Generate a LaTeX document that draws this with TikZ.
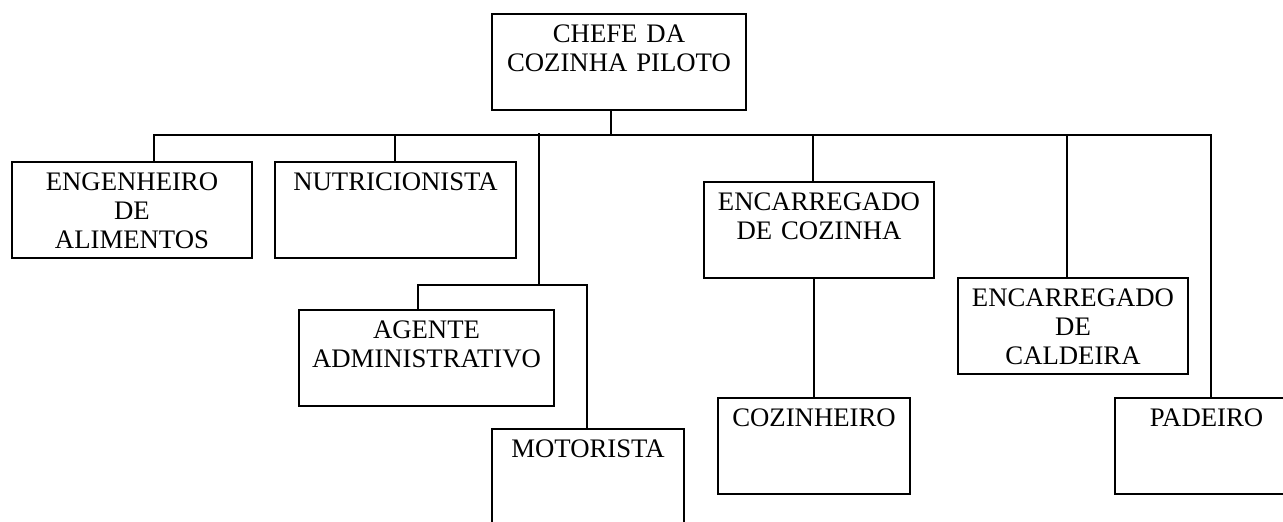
\documentclass[tikz,border=0pt]{standalone}
\usepackage{fontspec}
\setmainfont{Liberation Serif}
\usetikzlibrary{calc}

\begin{document}
\begin{tikzpicture}[x=.5pt, y=-.5pt,
  cargo/.style={draw, line width=1pt, anchor=north west, inner sep=0pt,
    text width=#1, align=center, text height=14.25pt, text depth=33.75pt,
    font=\fontsize{13.37pt}{14.5pt}\selectfont},
  liga/.style={line width=.85pt}]
\useasboundingbox (0,0) rectangle (1283,521);

% cargos
\node[cargo=127pt]   (chefe)      at (491,13)   {CHEFE DA\\COZINHA PILOTO};
\node[cargo=120pt]   (eng)        at (11,161)   {ENGENHEIRO\\DE\\ALIMENTOS};
\node[cargo=120.5pt] (nutri)      at (274,161)  {NUTRICIONISTA};
\node[cargo=127.5pt] (agente)     at (298,309)  {AGENTE\\ADMINISTRATIVO};
\node[cargo=96pt]    (motorista)  at (491,428)  {MOTORISTA};
\node[cargo=115pt]   (enccoz)     at (703,181)  {ENCARREGADO\\DE COZINHA};
\node[cargo=96pt]    (cozinheiro) at (717,397)  {COZINHEIRO};
\node[cargo=115pt]   (caldeira)   at (957,277)  {ENCARREGADO\\DE\\CALDEIRA};
\node[cargo=91.5pt]  (padeiro)    at (1114,397) {PADEIRO};

% barramento
\coordinate (b-eng)   at (154,135);
\coordinate (b-nut)   at (395,135);
\coordinate (b-adm)   at (539,133);
\coordinate (b-chefe) at (611,135);
\coordinate (b-coz)   at (813,135);
\coordinate (b-cal)   at (1067,135);
\coordinate (b-pad)   at (1211,135);
\coordinate (f-ag)    at (418,285);
\coordinate (f-adm)   at (539,285);
\coordinate (f-mot)   at (587,285);

\draw[liga] (eng.north -| b-eng) -- (b-eng) -- (b-pad) -- (padeiro.north -| b-pad);
\draw[liga] (chefe.south -| b-chefe) -- (b-chefe);
\draw[liga] (b-nut) -- (nutri.north -| b-nut);
\draw[liga] (b-coz) -- (enccoz.north -| b-coz);
\draw[liga] (enccoz.south -| cozinheiro.north) -- (cozinheiro.north);
\draw[liga] (b-cal) -- (caldeira.north -| b-cal);
\draw[liga] (b-adm) -- (f-adm);
\draw[liga] (agente.north -| f-ag) -- (f-ag) -- (f-mot) -- (motorista.north -| f-mot);
\end{tikzpicture}
\end{document}
